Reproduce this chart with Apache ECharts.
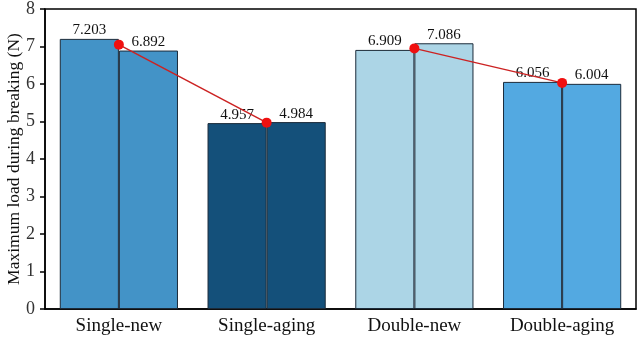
<!DOCTYPE html>
<html><head><meta charset="utf-8">
<script src="https://cdn.jsdelivr.net/npm/echarts@6/dist/echarts.min.js"></script>
<style>html,body{margin:0;padding:0;background:#fff}#c{width:638px;height:345px}</style>
</head><body><div id="c"></div>
<script>
const categories = ['Single-new', 'Single-aging', 'Double-new', 'Double-aging'];
const sampleA = [7.203, 4.957, 6.909, 6.056];
const sampleB = [6.892, 4.984, 7.086, 6.004];
const singleMeans = [7.05, 4.97, null, null];
const doubleMeans = [null, null, 6.95, 6.03];
const groupColors = ['#4393c7', '#14507a', '#acd5e6', '#53a9e1'];
const yTicks = [0, 1, 2, 3, 4, 5, 6, 7, 8];

const font = 'Liberation Serif';
const chart = echarts.init(document.getElementById('c'));
function barSeries(vals) {
  return {
    type: 'bar', barGap: '0%', barCategoryGap: '20%',
    data: vals.map((v, i) => ({ value: v, itemStyle: { color: groupColors[i] } })),
    itemStyle: { borderColor: '#1c2b3a', borderWidth: 1 },
    label: { show: true, position: 'top', distance: 1, color: '#111', fontFamily: font, fontSize: 15,
      formatter: p => p.value.toFixed(3) },
    z: 2
  };
}
function lineSeries(vals) {
  return {
    type: 'line', data: vals, symbol: 'circle', symbolSize: 10, connectNulls: false,
    lineStyle: { color: '#cc2222', width: 1.5 },
    itemStyle: { color: '#f01010' }, z: 5
  };
}
chart.setOption({
  animation: false,
  grid: { left: 45, right: 2, top: 9, bottom: 36, containLabel: false, outerBoundsMode: 'none',
    show: true, borderColor: '#000', borderWidth: 1.5 },
  xAxis: {
    type: 'category', data: categories,
    axisLine: { lineStyle: { color: '#000', width: 1.5 } },
    axisTick: { alignWithLabel: true, length: 6, lineStyle: { color: '#000', width: 1.5 } },
    axisLabel: { color: '#111', fontFamily: font, fontSize: 19, margin: 8 }
  },
  yAxis: {
    type: 'value', min: yTicks[0], max: yTicks[yTicks.length - 1], interval: 1,
    name: 'Maximum load during breaking (N)', nameLocation: 'middle', nameGap: 22,
    nameMoveOverlap: false,
    nameTextStyle: { color: '#111', fontFamily: font, fontSize: 17.5 },
    axisLine: { show: true, lineStyle: { color: '#000', width: 1.5 } },
    axisTick: { show: true, length: 5, lineStyle: { color: '#000', width: 1.5 } },
    axisLabel: { color: '#333', fontFamily: font, fontSize: 18, margin: 10 },
    splitLine: { show: false }
  },
  series: [
    barSeries(sampleA),
    barSeries(sampleB),
    lineSeries(singleMeans),
    lineSeries(doubleMeans)
  ]
});
</script></body></html>
